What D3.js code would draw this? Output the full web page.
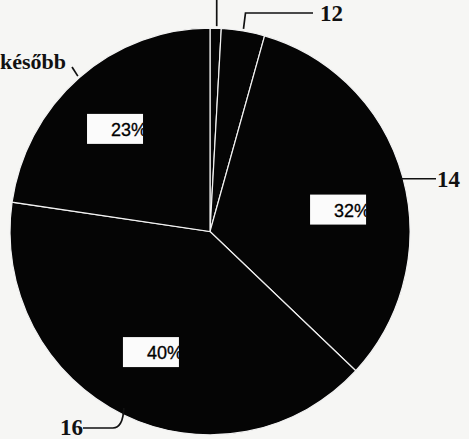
<!DOCTYPE html>
<html>
<head>
<meta charset="utf-8">
<script src="https://cdn.jsdelivr.net/npm/d3@7"></script>
<style>
  html, body { margin: 0; padding: 0; background: #f6f6f4; }
  svg { display: block; }
</style>
</head>
<body>
<div id="chart"></div>
<script>
// slices clockwise from 12 o'clock
const labels = ["", "12", "14", "16", "később"]
const values = [0.9, 3.5, 32.6, 40.3, 22.7]
const pctLabels = ["", "", "32%", "40%", "23%"]

const width = 469
const height = 439
const cx = 210, cy = 231.5
const r = 200

const svg = d3.select("#chart")
  .append("svg")
  .attr("width", width)
  .attr("height", height)

svg.append("rect").attr("width", width).attr("height", height).attr("fill", "#f6f6f4")

const pie = d3.pie().sort(null).value(d => d)
const arcs = pie(values)

const arc = d3.arc().innerRadius(0).outerRadius(r)
const labelArc = d3.arc().innerRadius(136).outerRadius(136)

// the scan is a little taller than wide
const g = svg.append("g")
  .attr("transform", "translate(" + cx + "," + cy + ") scale(1,1.017)")

g.selectAll("path")
  .data(arcs)
  .join("path")
  .attr("d", arc)
  .attr("fill", "#050505")
  .attr("stroke", "#f2f2f2")
  .attr("stroke-width", 1.2)

// boxes are not quite on the centroids in the original
const nudge = { 2: [-3, 15], 3: [0, -4], 4: [-6, 2] }

const boxes = svg.selectAll("g.pct")
  .data(arcs.filter((d, i) => pctLabels[i] !== ""))
  .join("g")
  .attr("class", "pct")
  .attr("transform", d => {
    const c = labelArc.centroid(d)
    const n = nudge[d.index]
    return "translate(" + (cx + c[0] + n[0]) + "," + (cy + c[1] * 1.017 + n[1]) + ")"
  })

boxes.append("rect")
  .attr("x", -28).attr("y", -15)
  .attr("width", 56).attr("height", 30)
  .attr("fill", "#fbfbfb")

boxes.append("clipPath")
  .attr("id", (d, i) => "clip" + i)
  .append("rect")
  .attr("x", -28).attr("y", -15)
  .attr("width", 56).attr("height", 30)

boxes.append("text")
  .attr("clip-path", (d, i) => "url(#clip" + i + ")")
  .attr("x", 32)
  .attr("y", 7)
  .attr("text-anchor", "end")
  .attr("font-family", "Liberation Sans, Arial, sans-serif")
  .attr("font-size", 18)
  .attr("fill", "#000")
  .attr("stroke", "#000")
  .attr("stroke-width", 0.3)
  .text(d => pctLabels[d.index])

// outer labels with leader lines
const edge = (d, rr) => {
  const a = (d.startAngle + d.endAngle) / 2
  return [cx + rr * Math.sin(a), cy - rr * 1.017 * Math.cos(a)]
}

const lead = svg.append("g")
  .attr("fill", "none")
  .attr("stroke", "#111")
  .attr("stroke-width", 1.7)

const txt = svg.append("g")
  .attr("font-family", "Liberation Serif, Times New Roman, serif")
  .attr("font-weight", "bold")
  .attr("font-size", 23)
  .attr("fill", "#111")

// thin top slice: label is off the top of the page
let p = edge(arcs[0], r + 2)
lead.append("path").attr("d", "M" + (p[0] + 1) + "," + p[1] + " L" + (p[0] + 1) + ",-2")

// 12
p = edge(arcs[1], r + 2)
lead.append("path").attr("d", "M" + p[0] + "," + p[1] + " L" + (p[0] + 2) + ",13 L313,13")
txt.append("text").attr("x", 320).attr("y", 21).text(labels[1])

// 14
p = edge(arcs[2], r - 2)
lead.append("path").attr("d", "M" + p[0] + "," + (p[1] + 1) + " L436," + (p[1] + 1))
txt.append("text").attr("x", 437).attr("y", p[1] + 9).text(labels[2])

// 16
p = edge(arcs[3], r - 4)
lead.append("path").attr("d", "M" + (p[0] - 1) + "," + (p[1] - 3) + " Q" + (p[0] - 2) + ",428 " + (p[0] - 12) + ",428 L83,428")
txt.append("text").attr("x", 60).attr("y", 435).text(labels[3])

// később
p = edge(arcs[4], r + 2)
lead.append("path").attr("d", "M" + p[0] + "," + p[1] + " L72,67")
txt.append("text").attr("x", 0).attr("y", 69).attr("font-size", 22).text(labels[4])
</script>
</body>
</html>
